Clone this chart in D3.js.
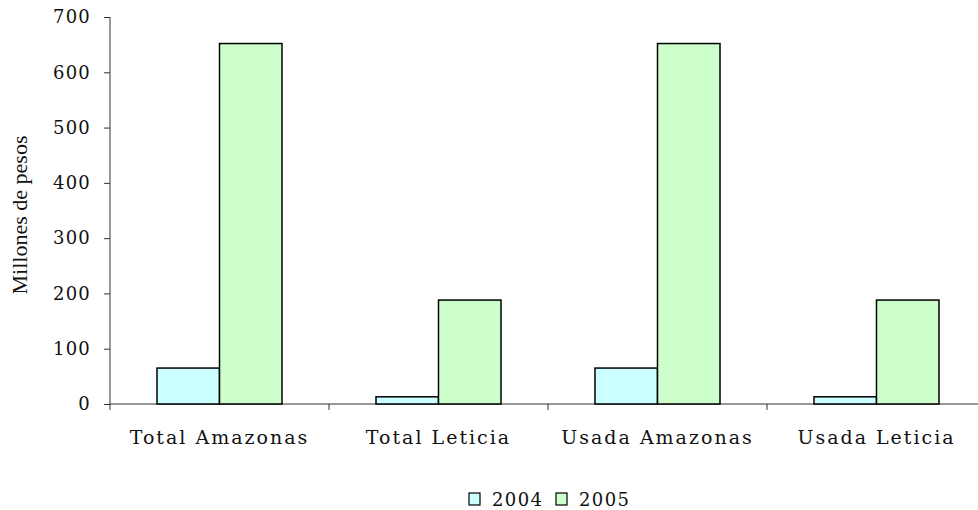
<!DOCTYPE html>
<html><head><meta charset="utf-8">
<script src="https://cdn.jsdelivr.net/npm/d3@7"></script>
<style>body{margin:0;background:#fff;overflow:hidden}svg{display:block}</style>
</head><body>
<script>
const categories = ["Total Amazonas","Total Leticia","Usada Amazonas","Usada Leticia"];
const seriesNames = ["2004","2005"];
const values2004 = [65, 13, 65, 13];
const values2005 = [652, 188, 652, 188];
const yTicks = [0,100,200,300,400,500,600,700];
const colors = ["#CCFFFF","#CCFFCC"];

(function(){
const W=978,H=510;
const svg=d3.select("body").append("svg").attr("width",W).attr("height",H);
const pL=110, pR=986, pT=17, pB=404;
const x=d3.scaleBand().domain(categories).range([pL,pR]).paddingInner(0).paddingOuter(0);
const inner=d3.scaleBand().domain(seriesNames).range([0,125]);
const y=d3.scaleLinear().domain([0,700]).range([pB,pT]);
const font="'DejaVu Serif', serif";

// y axis
const ya=svg.append("g").attr("transform",`translate(${pL},0)`)
  .call(d3.axisLeft(y).tickValues(yTicks).tickSize(6).tickPadding(13));
ya.select(".domain").attr("stroke","#333").attr("d",`M0,${pT}V${pB}`);
ya.selectAll(".tick line").attr("stroke","#333");
ya.selectAll("text").attr("font-family",font).attr("font-size",18).attr("fill","#111").attr("letter-spacing","1.2px");

// x axis
const xa=svg.append("g").attr("transform",`translate(0,${pB})`);
xa.append("line").attr("x1",pL).attr("x2",pR).attr("stroke","#333");
const bounds=categories.map(c=>x(c)).concat([pR]);
xa.selectAll("line.t").data(bounds).enter().append("line").attr("class","t")
  .attr("x1",d=>d).attr("x2",d=>d).attr("y1",0).attr("y2",6).attr("stroke","#333");
xa.selectAll("text").data(categories).enter().append("text")
  .attr("x",d=>x(d)+x.bandwidth()/2).attr("y",40).attr("text-anchor","middle")
  .attr("font-family",font).attr("font-size",19).attr("fill","#111").attr("letter-spacing","2px")
  .text(d=>d);

// bars
const data=[values2004,values2005];
seriesNames.forEach((s,i)=>{
  svg.append("g").selectAll("rect").data(categories).enter().append("rect")
    .attr("x",c=>x(c)+x.bandwidth()/2-62.5+inner(s))
    .attr("width",inner.bandwidth())
    .attr("y",(c,j)=>y(data[i][j]))
    .attr("height",(c,j)=>y(0)-y(data[i][j]))
    .attr("fill",colors[i]).attr("stroke","#000").attr("stroke-width",1.5);
});

// y title
svg.append("text").attr("transform","translate(27,215) rotate(-90)").attr("text-anchor","middle")
  .attr("font-family","'Liberation Serif', serif").attr("font-size",22).attr("fill","#111")
  .text("Millones de pesos");

// legend
const lg=svg.append("g");
const lx=[469,556];
seriesNames.forEach((s,i)=>{
  lg.append("rect").attr("x",lx[i]).attr("y",493).attr("width",11).attr("height",12)
    .attr("fill",colors[i]).attr("stroke","#000").attr("stroke-width",1.2);
  lg.append("text").attr("x",lx[i]+23).attr("y",506).attr("font-family",font).attr("font-size",18)
    .attr("fill","#111").attr("letter-spacing","1.4px").text(s);
});
})();
</script>
</body></html>
